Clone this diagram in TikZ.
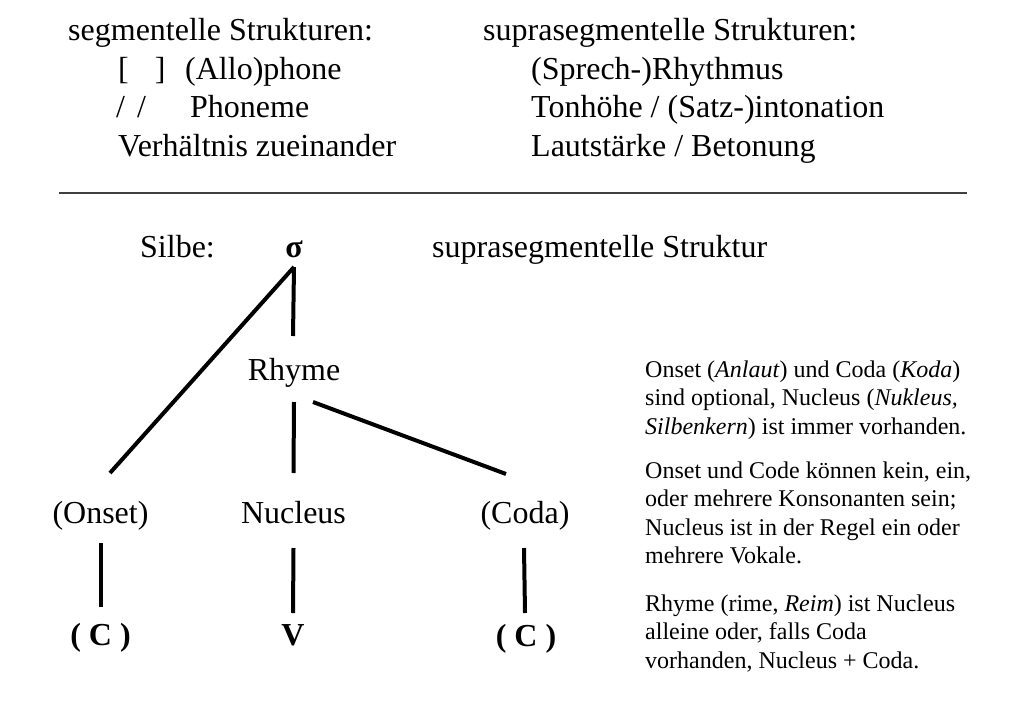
\documentclass[tikz,border=0pt]{standalone}
\usepackage{fontspec}
\setmainfont{Liberation Serif}
\begin{document}
\begin{tikzpicture}[x=1pt,y=-1pt,
  big/.style={font=\fontsize{32}{38}\selectfont, inner sep=0pt, anchor=base west},
  lbl/.style={font=\fontsize{32}{38}\selectfont, inner sep=0pt, anchor=base},
  lblb/.style={inner sep=0pt, anchor=base, font=\fontsize{32}{38}\selectfont\bfseries},
  note/.style={font=\fontsize{24}{28.5}\selectfont, inner sep=0pt, anchor=base west},
  branch/.style={line width=4pt, line cap=butt},
  rulestyle/.style={line width=1.5pt, black!75}]
\fill[white] (0,0) rectangle (1024,727);
\useasboundingbox (0,0) rectangle (1024,727);
% top left column
\node[big] (seg) at (68,41) {segmentelle Strukturen:};
\node[big] (brk) at (118,80) {[\hspace{26pt}]};
\node[big] (allo) at (185,80) {(Allo)phone};
\node[big] (sl) at (116,118) {/\hspace{12pt}/};
\node[big] (phon) at (190,118) {Phoneme};
\node[big] (verh) at (118,157) {Verhältnis zueinander};
% top right column
\node[big] (supra) at (483,41) {suprasegmentelle Strukturen:};
\node[big] (rhy) at (531,80) {(Sprech-)Rhythmus};
\node[big] (ton) at (531,118) {Tonhöhe / (Satz-)intonation};
\node[big] (laut) at (531,157) {Lautstärke / Betonung};
% rule
\coordinate (ruleL) at (59,193);
\coordinate (ruleR) at (967,193);
\draw[rulestyle] (ruleL) -- (ruleR);
% tree
\node[big] (silbe) at (140,257) {Silbe:};
\node[lblb] (sigma) at (294,257) {σ};
\node[big] (suprs) at (432,257) {suprasegmentelle Struktur};
\node[lbl] (rhyme) at (294,380) {Rhyme};
\node[lbl] (onset) at (100.5,523) {(Onset)};
\node[lbl] (nucleus) at (293.5,523) {Nucleus};
\node[lbl] (coda) at (525,523) {(Coda)};
\node[lblb] (c1) at (100.5,645) {( C )};
\node[lblb] (v) at (293,645) {V};
\node[lblb] (c2) at (526,646) {( C )};
\draw[branch] ([yshift=-10pt]sigma.base) -- ([xshift=9.5pt,yshift=50pt]onset.base);
\draw[branch] ([yshift=-10pt]sigma.base) -- ([xshift=-1pt,yshift=44pt]rhyme.base);
\draw[branch] ([yshift=-22pt]rhyme.base) -- ([yshift=50pt]nucleus.base);
\draw[branch] ([xshift=19pt,yshift=-22pt]rhyme.base) -- ([xshift=-19pt,yshift=49pt]coda.base);
\draw[branch] ([yshift=-20pt]onset.base) -- ([yshift=38pt]c1.base);
\draw[branch] ([yshift=-25pt]nucleus.base) -- ([yshift=32pt]v.base);
\draw[branch] ([xshift=-1pt,yshift=-25pt]coda.base) -- ([xshift=-1pt,yshift=33pt]c2.base);
% notes
\node[note] (n1) at (645,377) {\parbox[t]{360pt}{\raggedright Onset (\textit{Anlaut}) und Coda (\textit{Koda})\\sind optional, Nucleus (\textit{Nukleus,}\\\textit{Silbenkern}) ist immer vorhanden.}};
\node[note] (n2) at (645,478) {\parbox[t]{360pt}{\raggedright Onset und Code können kein, ein,\\oder mehrere Konsonanten sein;\\Nucleus ist in der Regel ein oder\\mehrere Vokale.}};
\node[note] (n3) at (645,611) {\parbox[t]{360pt}{\raggedright Rhyme (rime, \textit{Reim}) ist Nucleus\\alleine oder, falls Coda\\vorhanden, Nucleus + Coda.}};
\end{tikzpicture}
\end{document}
